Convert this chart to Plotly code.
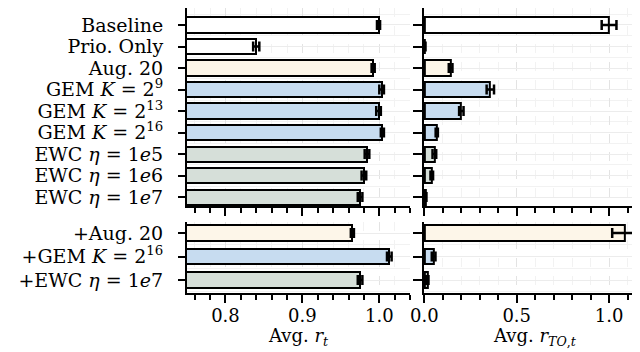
import plotly.graph_objects as go

# metodi del pannello superiore e inferiore (dall'alto verso il basso)
metodi_sopra = [
    "Baseline",
    "Prio. Only",
    "Aug. 20",
    "GEM <i>K</i> = 2<sup>9</sup>",
    "GEM <i>K</i> = 2<sup>13</sup>",
    "GEM <i>K</i> = 2<sup>16</sup>",
    "EWC <i>η</i> = 1<i>e</i>5",
    "EWC <i>η</i> = 1<i>e</i>6",
    "EWC <i>η</i> = 1<i>e</i>7",
]
metodi_sotto = [
    "+Aug. 20",
    "+GEM <i>K</i> = 2<sup>16</sup>",
    "+EWC <i>η</i> = 1<i>e</i>7",
]

# Avg. r_t
rt_sopra = [0.999, 0.840, 0.992, 1.003, 0.999, 1.004, 0.984, 0.980, 0.975]
rt_sopra_err = [0.002, 0.004, 0.002, 0.003, 0.003, 0.002, 0.003, 0.003, 0.003]
rt_sotto = [0.965, 1.013, 0.975]
rt_sotto_err = [0.002, 0.003, 0.003]

# Avg. r_TO,t
rto_sopra = [1.0, 0.003, 0.142, 0.357, 0.20, 0.067, 0.054, 0.040, 0.007]
rto_sopra_err = [0.04, 0.003, 0.01, 0.02, 0.012, 0.006, 0.01, 0.007, 0.004]
rto_sotto = [1.085, 0.05, 0.016]
rto_sotto_err = [0.068, 0.01, 0.006]

# colori per gruppo di metodo
colori_sopra = ["#ffffff", "#ffffff", "#fdf6e9", "#c7dcf0", "#c7dcf0",
                "#c7dcf0", "#d6dfd9", "#d6dfd9", "#d6dfd9"]
colori_sotto = ["#fdf6e9", "#c7dcf0", "#d6dfd9"]

titoli_x = ["Avg. <i>r</i><sub><i>t</i></sub>",
            "Avg. <i>r</i><sub><i>TO</i>,<i>t</i></sub>"]

font = "DejaVu Serif"
nero = "#000000"


def barre(valori, errori, colori, n, larghezza, xa, ya):
    return go.Bar(
        x=valori,
        y=list(range(n)),
        orientation="h",
        width=larghezza,
        marker=dict(color=colori, line=dict(color=nero, width=2)),
        error_x=dict(type="data", array=errori, color=nero,
                     thickness=2.5, width=5),
        xaxis=xa,
        yaxis=ya,
        showlegend=False,
        hoverinfo="skip",
    )


fig = go.Figure()
fig.add_trace(barre(rt_sopra, rt_sopra_err, colori_sopra, 9, 0.7, "x", "y"))
fig.add_trace(barre(rto_sopra, rto_sopra_err, colori_sopra, 9, 0.7, "x2", "y2"))
fig.add_trace(barre(rt_sotto, rt_sotto_err, colori_sotto, 3, 0.65, "x3", "y3"))
fig.add_trace(barre(rto_sotto, rto_sotto_err, colori_sotto, 3, 0.65, "x4", "y4"))

griglia = dict(showgrid=True, gridcolor="#e3e3e3", gridwidth=1, griddash="dash")
minori_x = dict(ticks="outside", ticklen=5, tickwidth=1.5, tickcolor=nero,
                showgrid=True, gridcolor="#f2f2f2", gridwidth=1)


def asse_x(dominio, intervallo, passo, minore, etichette, ancora):
    return dict(
        domain=dominio,
        range=intervallo,
        dtick=passo,
        tick0=0,
        ticks="outside",
        ticklen=8,
        tickwidth=2,
        tickcolor=nero,
        showline=True,
        linecolor=nero,
        linewidth=2,
        zeroline=False,
        showticklabels=etichette,
        ticklabelstandoff=-3,
        tickformat=".1f",
        tickfont=dict(family=font, size=18, color=nero),
        minor=dict(dtick=minore, tick0=0, **minori_x),
        anchor=ancora,
        **griglia,
    )


def asse_y(dominio, intervallo, testi, ancora, etichette, lung):
    return dict(
        domain=dominio,
        range=intervallo,
        tickmode="array",
        tickvals=list(range(len(testi))),
        ticktext=testi,
        showticklabels=etichette,
        ticks="outside",
        ticklen=lung,
        tickwidth=2,
        tickcolor=nero,
        showline=True,
        linecolor=nero,
        linewidth=2,
        zeroline=False,
        ticklabelstandoff=11,
        tickfont=dict(family=font, size=19, color=nero),
        showgrid=True,
        gridcolor="#ececec",
        gridwidth=1,
        minor=dict(dtick=0.5, tick0=0.5, showgrid=True, gridcolor="#f2f2f2",
                   ticks=""),
        anchor=ancora,
    )


dom_sx = [0, 0.486]
dom_dx = [0.516, 1]
dom_alto = [0.305, 1]
dom_basso = [0, 0.249]

fig.update_layout(
    width=640,
    height=352,
    margin=dict(l=179, r=2, t=0, b=67),
    plot_bgcolor="white",
    paper_bgcolor="white",
    bargap=0,
    xaxis=asse_x(dom_sx, [0.75, 1.04], 0.1, 0.02, False, "y"),
    xaxis2=asse_x(dom_dx, [-0.003, 1.2], 0.5, 0.1, False, "y2"),
    xaxis3=asse_x(dom_sx, [0.75, 1.04], 0.1, 0.02, True, "y3"),
    xaxis4=asse_x(dom_dx, [-0.003, 1.2], 0.5, 0.1, True, "y4"),
    yaxis=asse_y(dom_alto, [8.42, -0.79], metodi_sopra, "x", True, 7),
    yaxis2=asse_y(dom_alto, [8.42, -0.79], metodi_sopra, "x2", False, 9),
    yaxis3=asse_y(dom_basso, [2.55, -0.47], metodi_sotto, "x3", True, 7),
    yaxis4=asse_y(dom_basso, [2.55, -0.47], metodi_sotto, "x4", False, 9),
)

# titoli degli assi x sotto ai due pannelli
for dominio, testo in zip([dom_sx, dom_dx], titoli_x):
    fig.add_annotation(
        x=(dominio[0] + dominio[1]) / 2,
        y=-0.155,
        xref="paper",
        yref="paper",
        xanchor="center",
        yanchor="middle",
        text=testo,
        showarrow=False,
        font=dict(family=font, size=18, color=nero),
    )

fig.write_html("out.html")
